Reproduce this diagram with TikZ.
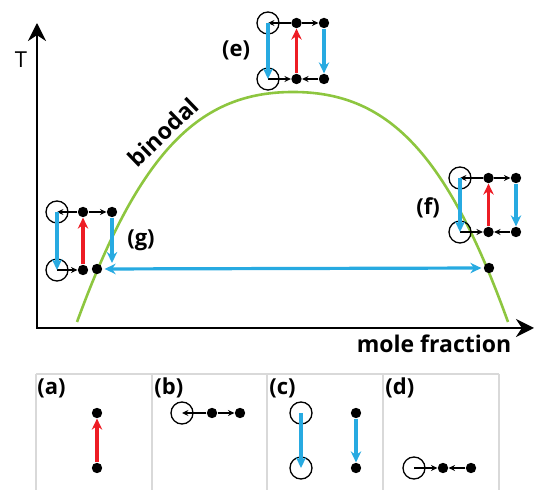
\documentclass[tikz,border=0pt]{standalone}
\usepackage{fontspec}
\setmainfont{Open Sans}
\usepackage{tikz}
\usetikzlibrary{arrows.meta}

\definecolor{binodalgreen}{HTML}{8DC63F}
\definecolor{quenchblue}{HTML}{27AAE1}
\definecolor{heatred}{HTML}{ED1C24}

\begin{document}
\begin{tikzpicture}[x=0.5pt,y=-0.5pt,font=\fontsize{11}{12}\selectfont\bfseries,
    dot/.style={circle,fill=black,inner sep=0pt,minimum size=5.2pt},
    ring/.style={circle,draw,line width=0.65pt,inner sep=0pt,minimum size=11pt},
    flow/.style={line width=0.75pt,-{Stealth[length=3.2pt,width=3pt]}},
    down/.style={quenchblue,line width=1.6pt,-{Stealth[length=5.5pt,width=5.2pt]}},
    up/.style={heatred,line width=1.6pt,-{Stealth[length=5.5pt,width=5.2pt]}},
    tie/.style={quenchblue,line width=1.6pt,{Stealth[length=5.5pt,width=5.2pt]}-{Stealth[length=5.5pt,width=5.2pt]},shorten <=1pt,shorten >=1pt},
    panel/.style={black!15,line width=0.6pt}]
    \useasboundingbox (0,0) rectangle (535,490);
    \draw[line width=1.3pt,{Stealth[length=9pt,width=9pt]}-{Stealth[length=9pt,width=9pt]}] (37,23) -- (37,328) -- (534,328);
    \node[font=\fontsize{11}{12}\selectfont] (tlabel) at (21,60) {T};
    \node[font=\fontsize{11.5}{12}\selectfont\bfseries] (xlabel) at (434,344) {mole fraction};
    \draw[binodalgreen,line width=1.3pt] (77,322) .. controls (140,150) and (200,92) .. (293,92) .. controls (386,92) and (446,150) .. (508,322);
    \node[font=\fontsize{11.5}{12}\selectfont\bfseries,rotate=44] (binodal) at (163,132) {binodal};

    \foreach \n/\x/\y/\h in {e/268/23/56, f/460/178/54} {
        \node[ring] (\n-c1) at (\x,\y) {};
        \node[dot] (\n-d1) at (\x+28.5,\y) {};
        \node[dot] (\n-d2) at (\x+56,\y) {};
        \node[ring] (\n-c2) at (\x,\y+\h) {};
        \node[dot] (\n-d3) at (\x+28.5,\y+\h) {};
        \node[dot] (\n-d4) at (\x+56,\y+\h) {};
        \draw[flow] (\n-d1) -- (\n-c1.center);
        \draw[flow] (\n-d1) -- (\n-d2);
        \draw[flow] (\n-c2.center) -- (\n-d3);
        \draw[flow] (\n-d4) -- (\n-d3);
        \draw[down] (\n-c1.center) -- (\n-c2.center);
        \draw[up] (\n-d3) -- (\n-d1);
        \draw[down] (\n-d2) -- (\n-d4);
    }
    \node (e-label) at (236,50) {(e)};
    \node (f-label) at (428,208) {(f)};

    \node[ring] (g-c1) at (57,212) {};
    \node[dot] (g-d1) at (83,212) {};
    \node[dot] (g-d2) at (112,212) {};
    \node[ring] (g-c2) at (57,270) {};
    \node[dot] (g-d3) at (83,270) {};
    \node[dot] (g-d4) at (97,269) {};
    \coordinate (g-end) at (112,263);
    \draw[flow] (g-d1) -- (g-c1.center);
    \draw[flow] (g-d1) -- (g-d2);
    \draw[flow] (g-c2.center) -- (g-d3);
    \draw[down] (g-c1.center) -- (g-c2.center);
    \draw[up] (g-d3) -- (g-d1);
    \draw[down] (g-d2) -- (g-end);
    \node (g-label) at (141,240) {(g)};
    \node[dot] (tie-r) at (489,268) {};
    \draw[tie] (g-d4) -- (tie-r);

    % panels
    \draw[panel] (36,374) -- (499,374);
    \foreach \x in {36,152,267,383,499} \draw[panel] (\x,374) -- (\x,490);
    \foreach \n/\x in {a/37,b/154,c/269,d/385} \node[anchor=west,inner sep=0pt] (\n-label) at (\x,388) {(\n)};

    \node[dot] (a-d1) at (97,413) {};
    \node[dot] (a-d2) at (97,468) {};
    \draw[up] (a-d2) -- (a-d1);

    \node[ring] (b-c) at (182,413) {};
    \node[dot] (b-d1) at (212,413) {};
    \node[dot] (b-d2) at (240,413) {};
    \draw[flow] (b-d1) -- (b-c.center);
    \draw[flow] (b-d1) -- (b-d2);

    \node[ring] (c-c1) at (301,413) {};
    \node[ring] (c-c2) at (301,468) {};
    \node[dot] (c-d1) at (356,413) {};
    \node[dot] (c-d2) at (356,468) {};
    \draw[down] (c-c1.center) -- (c-c2.center);
    \draw[down] (c-d1) -- (c-d2);

    \node[ring] (d-c) at (414,468) {};
    \node[dot] (d-d1) at (443,468) {};
    \node[dot] (d-d2) at (471,468) {};
    \draw[flow] (d-c.center) -- (d-d1);
    \draw[flow] (d-d2) -- (d-d1);
\end{tikzpicture}
\end{document}
